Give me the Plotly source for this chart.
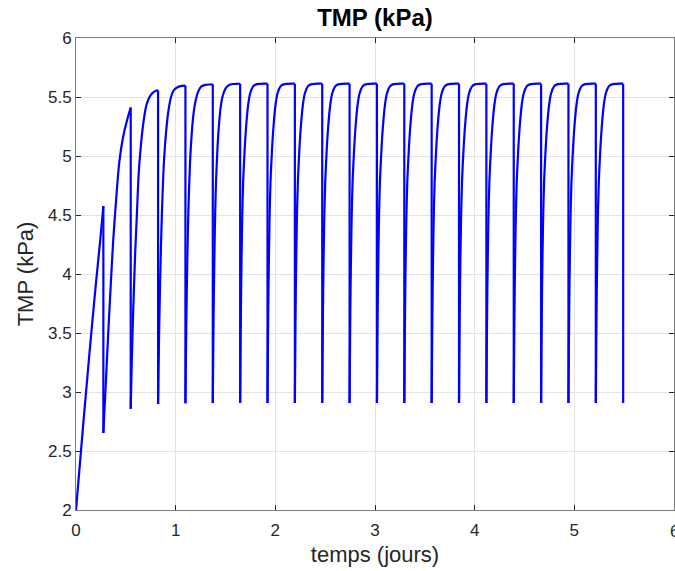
import plotly.graph_objects as go

# ---------------- data ----------------
# time offsets inside one filtration cycle (days after the backwash)
offsets_days = [0, 0.005, 0.01, 0.02, 0.03, 0.045, 0.06, 0.08, 0.1, 0.13, 0.16, 0.2, 0.24, 0.2745]

# start of each filtration cycle (days) - backwash instants
cycle_starts_days = [0.0, 0.2745, 0.549, 0.8235, 1.098, 1.3725, 1.647, 1.9215, 2.196, 2.4705,
                     2.745, 3.0195, 3.294, 3.5685, 3.843, 4.1175, 4.392, 4.6665, 4.941, 5.2155]

# TMP (kPa) at the offsets above, cycle by cycle
cycle1_kpa = [2.00, 2.05, 2.10, 2.20, 2.30, 2.45, 2.60, 2.80, 2.99, 3.28, 3.56, 3.92, 4.26, 4.575]
cycle2_kpa = [2.652, 2.74, 2.83, 3.00, 3.17, 3.43, 3.68, 4.00, 4.30, 4.65, 4.95, 5.17, 5.31, 5.41]
cycle3_kpa = [2.858, 3.05, 3.22, 3.55, 3.82, 4.18, 4.47, 4.85, 5.07, 5.30, 5.44, 5.515, 5.548, 5.557]
cycle4_kpa = [2.898, 3.20, 3.47, 3.92, 4.27, 4.68, 4.97, 5.20, 5.36, 5.50, 5.56, 5.585, 5.594, 5.596]
cycle5_kpa = [2.905, 3.30, 3.65, 4.18, 4.55, 4.92, 5.15, 5.35, 5.46, 5.55, 5.59, 5.603, 5.606, 5.607]
cycle6_kpa = [2.907, 3.38, 3.78, 4.35, 4.72, 5.03, 5.24, 5.42, 5.51, 5.575, 5.60, 5.61, 5.612, 5.612]
steady_kpa = [2.907, 3.45, 3.88, 4.45, 4.78, 5.05, 5.25, 5.43, 5.53, 5.59, 5.607, 5.612, 5.613, 5.613]

last_backwash_day = 5.49
last_min_kpa = 2.907

x_tick_vals = [0, 1, 2, 3, 4, 5, 6]
x_tick_text = ["0", "1", "2", "3", "4", "5", "6"]
y_tick_vals = [2, 2.5, 3, 3.5, 4, 4.5, 5, 5.5, 6]
y_tick_text = ["2", "2.5", "3", "3.5", "4", "4.5", "5", "5.5", "6"]

# ---------------- build the series ----------------
profiles = [cycle1_kpa, cycle2_kpa, cycle3_kpa, cycle4_kpa, cycle5_kpa, cycle6_kpa]
profiles += [steady_kpa] * (len(cycle_starts_days) - len(profiles))

# ---------------- figure ----------------
FONT = "Liberation Sans, Arial, Helvetica, sans-serif"
AX = "#262626"
LINE = "#7a7a7a"
GRID = "#e3e3e3"
BLUE = "#0000ff"
LW = 2.2

fig = go.Figure()

# rising (filtration) part of every cycle
for start, prof in zip(cycle_starts_days, profiles):
    fig.add_trace(go.Scatter(x=[start + o for o in offsets_days], y=prof, mode="lines",
                             line=dict(color=BLUE, width=LW, shape="spline", smoothing=0.8),
                             showlegend=False, hoverinfo="x+y"))

# vertical drops (backwash): end of each cycle -> minimum of the next one
drop_x, drop_y = [], []
next_mins = [prof[0] for prof in profiles[1:]] + [last_min_kpa]
for start, prof, nxt in zip(cycle_starts_days, profiles, next_mins):
    tend = start + offsets_days[-1]
    drop_x += [tend, tend, None]
    drop_y += [prof[-1], nxt, None]
fig.add_trace(go.Scatter(x=drop_x, y=drop_y, mode="lines",
                         line=dict(color=BLUE, width=LW), showlegend=False, hoverinfo="skip"))

axis_common = dict(showgrid=True, gridcolor=GRID, gridwidth=1, automargin=False,
                   showline=True, linecolor=LINE, linewidth=1, mirror="ticks",
                   ticks="inside", ticklen=5, tickcolor=AX, tickwidth=1,
                   zeroline=False, tickfont=dict(family=FONT, size=17, color=AX))

fig.update_xaxes(range=[0, 6], tickmode="array", tickvals=x_tick_vals, ticktext=x_tick_text,
                 ticklabelstandoff=5,
                 title=dict(text="temps (jours)", font=dict(family=FONT, size=22, color=AX), standoff=7),
                 **axis_common)
fig.update_yaxes(range=[2, 6], tickmode="array", tickvals=y_tick_vals, ticktext=y_tick_text,
                 title=dict(text="TMP (kPa)", font=dict(family=FONT, size=22, color=AX), standoff=8),
                 **axis_common)

# the last x tick label, cut by the right border as in the reference
fig.add_annotation(x=x_tick_vals[-1], xref="x", y=0, yref="paper", yanchor="top", yshift=-10,
                   text=x_tick_text[-1], showarrow=False,
                   font=dict(family=FONT, size=17, color=AX))

fig.update_layout(
    width=675, height=571,
    margin=dict(l=76, r=1, t=38, b=61, autoexpand=False),
    paper_bgcolor="white", plot_bgcolor="white",
    title=dict(text="<b>TMP (kPa)</b>", x=0.5, xref="paper", y=1 - 18 / 571, yref="container",
               xanchor="center", yanchor="middle",
               font=dict(family=FONT, size=24, color="#000000")),
)

fig.write_html("out.html", config={"displayModeBar": False},
               post_script="document.body.style.margin='0';document.body.style.overflow='hidden';")
